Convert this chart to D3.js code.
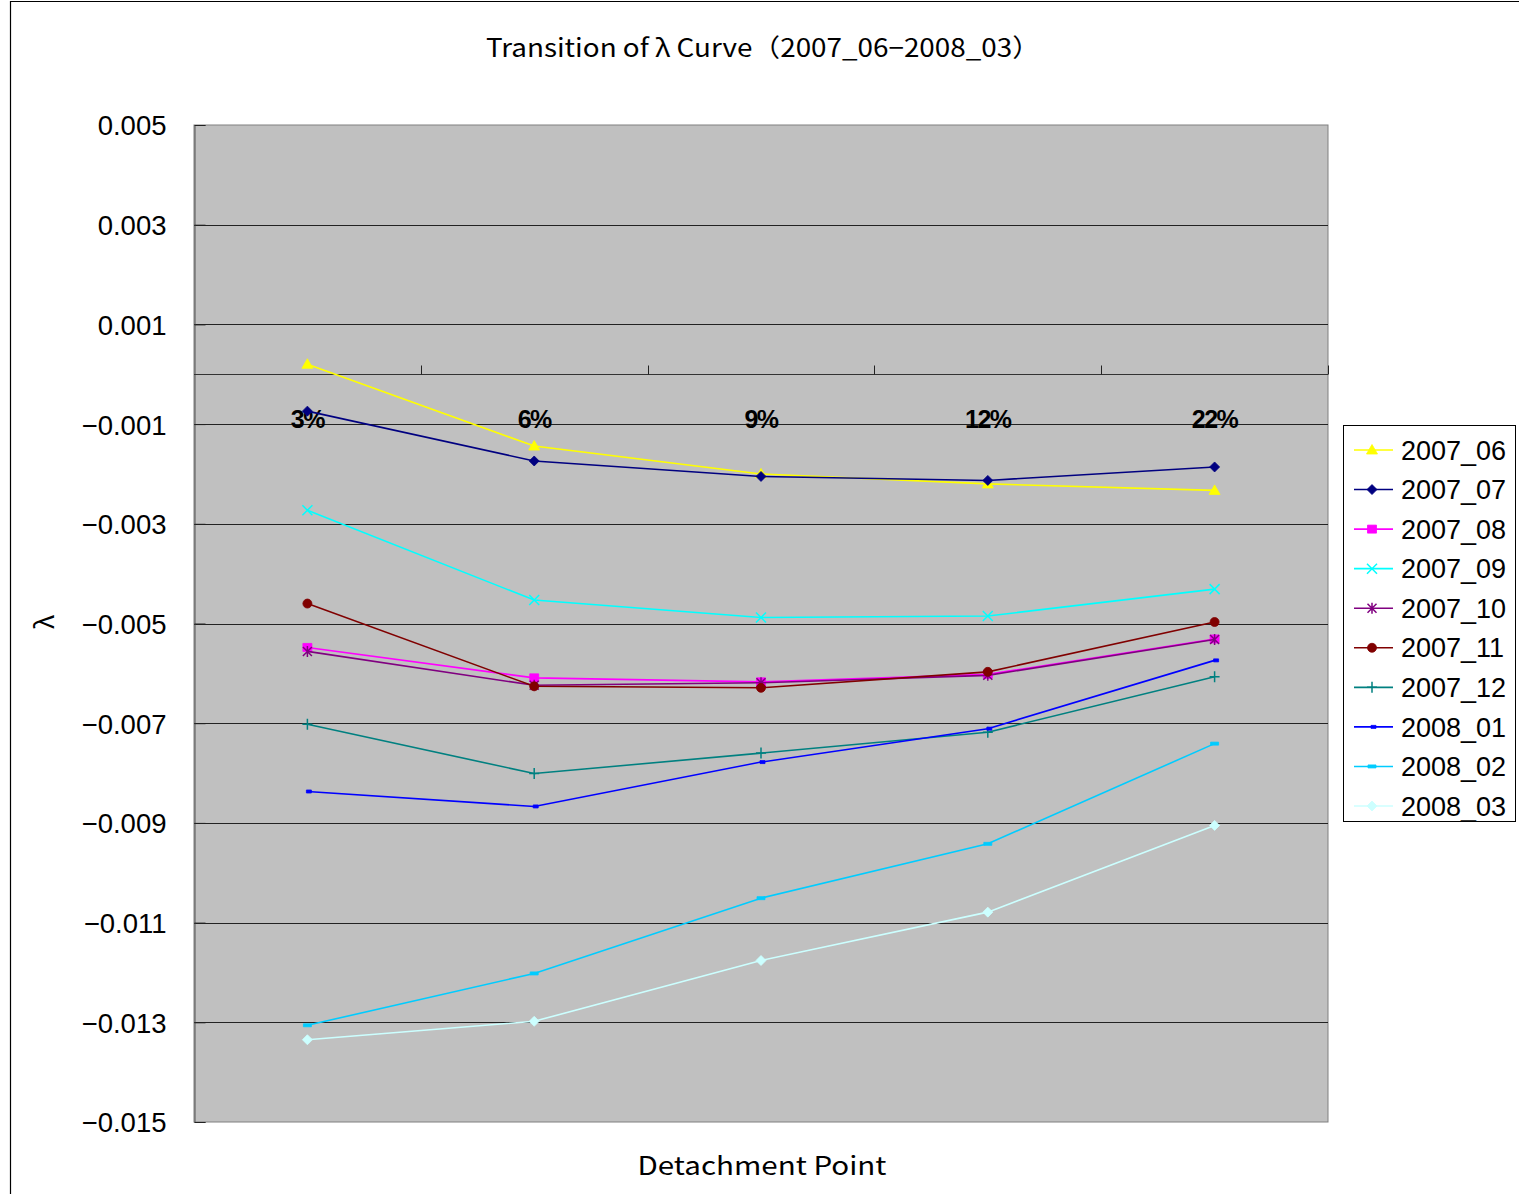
<!DOCTYPE html>
<html>
<head>
<meta charset="utf-8">
<script src="https://cdn.jsdelivr.net/npm/d3@7"></script>
<style>
html,body{margin:0;padding:0;background:#fff;}
svg{display:block;}
</style>
</head>
<body>
<svg id="chart" width="1519" height="1194"></svg>
<script>
const categories = ["3%", "6%", "9%", "12%", "22%"];
const seriesNames = ["2007_06","2007_07","2007_08","2007_09","2007_10","2007_11","2007_12","2008_01","2008_02","2008_03"];
const s2007_06 = [0.0002, -0.00144, -0.0020, -0.0022, -0.00233];
const s2007_07 = [-0.00074, -0.00174, -0.00205, -0.00213, -0.00186];
const s2007_08 = [-0.00548, -0.00609, -0.00617, -0.00602, -0.00531];
const s2007_09 = [-0.00273, -0.00453, -0.00488, -0.00485, -0.00431];
const s2007_10 = [-0.00556, -0.00624, -0.00619, -0.00604, -0.00532];
const s2007_11 = [-0.0046, -0.00626, -0.00629, -0.00597, -0.00497];
const s2007_12 = [-0.00702, -0.00801, -0.0076, -0.00718, -0.00607];
const s2008_01 = [-0.00837, -0.00867, -0.00778, -0.00711, -0.00574];
const s2008_02 = [-0.01306, -0.01202, -0.01051, -0.00942, -0.00741];
const s2008_03 = [-0.01335, -0.01298, -0.01176, -0.01079, -0.00905];
const yTicks = [0.005, 0.003, 0.001, -0.001, -0.003, -0.005, -0.007, -0.009, -0.011, -0.013, -0.015];
const titleText = "Transition of \u03BB Curve\uFF082007_06\u22122008_03\uFF09";
const xTitle = "Detachment Point";
const yTitle = "\u03BB";

const seriesValues = [s2007_06, s2007_07, s2007_08, s2007_09, s2007_10, s2007_11, s2007_12, s2008_01, s2008_02, s2008_03];
const colors = ["#FFFF00","#000080","#FF00FF","#00FFFF","#800080","#800000","#008080","#0000FF","#00CCFF","#CCFFFF"];
const markers = ["triangle","diamond","square","x","asterisk","circle","plus","dashS","dashL","diamond"];

const svg = d3.select("#chart");
const L = 194, R = 1328, T = 125, B = 1122;

// frame
svg.append("line").attr("x1",10.5).attr("x2",10.5).attr("y1",1).attr("y2",1194).attr("stroke","#000").attr("stroke-width",1.2);
svg.append("line").attr("x1",10).attr("x2",1519).attr("y1",1.5).attr("y2",1.5).attr("stroke","#000").attr("stroke-width",1.2);

const x = d3.scaleBand().domain(categories).range([L, R]);
const y = d3.scaleLinear().domain([-0.015, 0.005]).range([B, T]);

// plot area
svg.append("rect").attr("x",L).attr("y",T).attr("width",R-L).attr("height",B-T)
  .attr("fill","#C0C0C0").attr("stroke","#808080").attr("stroke-width",1);

// gridlines
svg.append("g").selectAll("line").data(yTicks.filter(v => v !== 0.005 && v !== -0.015)).join("line")
  .attr("x1",L).attr("x2",R).attr("y1",d=>Math.round(y(d))+0.5).attr("y2",d=>Math.round(y(d))+0.5)
  .attr("stroke","#222").attr("stroke-width",1);

// y axis
const yAxis = d3.axisLeft(y).tickValues(yTicks).tickSize(-11).tickPadding(28)
  .tickFormat(d3.format(".3f"));
const gy = svg.append("g").attr("transform",`translate(${L+0.5},0)`).call(yAxis);
gy.select(".domain").attr("stroke","#555");
gy.selectAll(".tick line").attr("stroke","#222");
gy.selectAll(".tick text").attr("font-family","'Liberation Sans', Arial, sans-serif").attr("font-size",27.5).attr("fill","#000").attr("dy","0.36em");

// x axis at zero
const gx = svg.append("g").attr("transform",`translate(0,${Math.round(y(0))+0.5})`);
gx.append("line").attr("x1",L).attr("x2",R).attr("stroke","#333").attr("stroke-width",1.2);
const bounds = categories.map(c => x(c)).concat([R]).slice(1);
gx.selectAll("line.tk").data(bounds).join("line").attr("class","tk")
  .attr("x1",d=>Math.round(d)+0.5).attr("x2",d=>Math.round(d)+0.5).attr("y1",0).attr("y2",-9)
  .attr("stroke","#222");
gx.selectAll("text").data(categories).join("text")
  .attr("x",d=>x(d)+x.bandwidth()/2).attr("y",53)
  .attr("text-anchor","middle").attr("font-family","'Liberation Sans', Arial, sans-serif")
  .attr("font-size",25).attr("font-weight","bold").attr("fill","#000").attr("letter-spacing",-1.5)
  .text(d=>d);

// marker generator (shape outlines around a point)
function markerPath(type){
  const p = d3.path();
  switch(type){
    case "triangle": p.moveTo(0,-5.5); p.lineTo(5.5,4); p.lineTo(-5.5,4); p.closePath(); break;
    case "diamond": p.moveTo(0,-5); p.lineTo(5,0); p.lineTo(0,5); p.lineTo(-5,0); p.closePath(); break;
    case "square": p.rect(-4.5,-4,9,8); break;
    case "circle": p.arc(0,0,4.5,0,2*Math.PI); break;
    case "x": p.moveTo(-5,-5); p.lineTo(5,5); p.moveTo(5,-5); p.lineTo(-5,5); break;
    case "asterisk": p.moveTo(-4.5,-4.5); p.lineTo(4.5,4.5); p.moveTo(4.5,-4.5); p.lineTo(-4.5,4.5); p.moveTo(0,-5.5); p.lineTo(0,5.5); break;
    case "plus": p.moveTo(-5,0); p.lineTo(5,0); p.moveTo(0,-5.5); p.lineTo(0,5.5); break;
    case "dashS": p.rect(-1,-1.5,5,3); break;
    case "dashL": p.rect(-4,-1.5,8,3); break;
  }
  return p.toString();
}
const filled = t => ["triangle","diamond","square","circle","dashS","dashL"].includes(t);

const line = d3.line().x((d,i)=>x(categories[i])+x.bandwidth()/2).y(d=>y(d));

const gs = svg.append("g");
seriesValues.forEach((vals, si) => {
  const g = gs.append("g");
  g.append("path").datum(vals).attr("d", line).attr("fill","none")
    .attr("stroke", colors[si]).attr("stroke-width", 1.6);
  g.selectAll("path.m").data(vals).join("path").attr("class","m")
    .attr("transform",(d,i)=>`translate(${x(categories[i])+x.bandwidth()/2},${y(d)})`)
    .attr("d", markerPath(markers[si]))
    .attr("fill", filled(markers[si]) ? colors[si] : "none")
    .attr("stroke", colors[si]).attr("stroke-width", filled(markers[si]) ? 0.8 : 1.5);
});

// legend
const lg = svg.append("g");
lg.append("rect").attr("x",1343.5).attr("y",425.5).attr("width",172).attr("height",396)
  .attr("fill","#fff").attr("stroke","#000").attr("stroke-width",1);
const ly = d3.scalePoint().domain(seriesNames).range([450, 806]);
seriesNames.forEach((nm, si) => {
  const yy = ly(nm);
  lg.append("line").attr("x1",1354).attr("x2",1393).attr("y1",yy).attr("y2",yy)
    .attr("stroke",colors[si]).attr("stroke-width",1.6);
  lg.append("path").attr("transform",`translate(1372,${yy})`).attr("d",markerPath(markers[si]))
    .attr("fill", filled(markers[si]) ? colors[si] : "none")
    .attr("stroke", colors[si]).attr("stroke-width", filled(markers[si]) ? 0.8 : 1.5);
  lg.append("text").attr("x",1401).attr("y",yy).attr("dy","0.36em")
    .attr("font-family","'Liberation Sans', Arial, sans-serif").attr("font-size",27).attr("fill","#000")
    .text(nm);
});

// titles
svg.append("text").attr("x",763).attr("y",57).attr("text-anchor","middle")
  .attr("font-family","'Noto Sans CJK JP', sans-serif").attr("font-size",25).attr("fill","#000")
  .attr("textLength",554).attr("lengthAdjust","spacingAndGlyphs").text(titleText);
svg.append("text").attr("x",762).attr("y",1175).attr("text-anchor","middle")
  .attr("font-family","'Noto Sans CJK JP', sans-serif").attr("font-size",25).attr("fill","#000")
  .attr("textLength",249).attr("lengthAdjust","spacingAndGlyphs").text(xTitle);
svg.append("text").attr("transform","translate(54,622) rotate(-90)").attr("text-anchor","middle")
  .attr("font-family","'Noto Sans CJK JP', sans-serif").attr("font-size",26).attr("fill","#000")
  .text(yTitle);
</script>
</body>
</html>
